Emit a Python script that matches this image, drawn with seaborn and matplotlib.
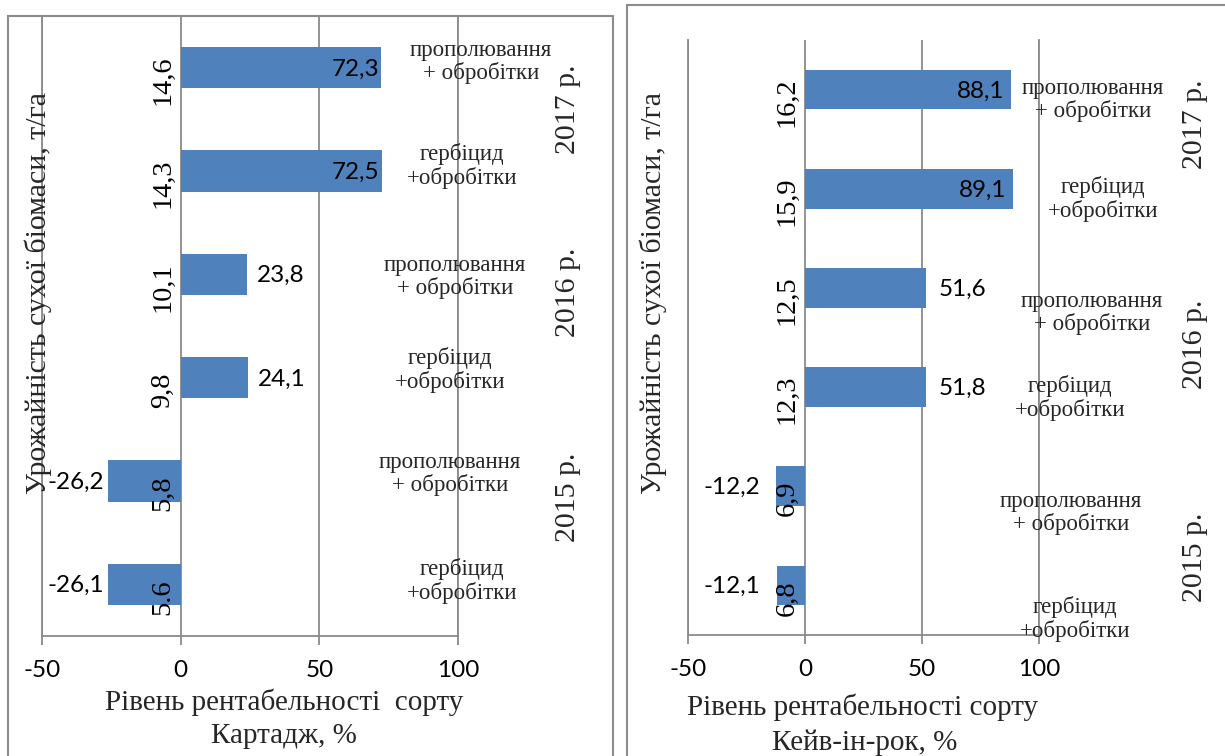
import numpy as np
import pandas as pd
import matplotlib
matplotlib.use("Agg")
import matplotlib.pyplot as plt
import seaborn as sns
from matplotlib.patches import Rectangle

# ---------------- data ----------------
categories = ["2017 прополювання", "2017 гербіцид", "2016 прополювання",
              "2016 гербіцид", "2015 прополювання", "2015 гербіцид"]
treatments = ["прополювання\n+ обробітки", "гербіцид\n+обробітки",
              "прополювання\n+ обробітки", "гербіцид\n+обробітки",
              "прополювання\n+ обробітки", "гербіцид\n+обробітки"]
years = ["2017 р.", "2016 р.", "2015 р."]
kartadzh_profit = [72.3, 72.5, 23.8, 24.1, -26.2, -26.1]
kartadzh_yield = ["14,6", "14,3", "10,1", "9,8", "5,8", "5.6"]
kave_profit = [88.1, 89.1, 51.6, 51.8, -12.2, -12.1]
kave_yield = ["16,2", "15,9", "12,5", "12,3", "6,9", "6,8"]
x_ticks = [-50, 0, 50, 100]
xlabel_line1 = ["Рівень рентабельності  сорту", "Рівень рентабельності сорту"]
xlabel_line2 = ["Картадж, %", "Кейв-ін-рок, %"]
ylabel_text = "Урожайність сухої біомаси, т/га"

# ---------------- style ----------------
W, H = 1225, 756
sns.set_theme(style="white")
plt.rcParams["font.family"] = ["Liberation Serif", "DejaVu Serif"]
SANS = ["Lato", "DejaVu Sans"]
SERIF = ["Liberation Serif", "DejaVu Serif"]
BAR = "#4F81BD"
GRID = "#8a8a8a"

fig = plt.figure(figsize=(W / 100, H / 100), dpi=100)
fig.patch.set_facecolor("white")


def px(x, y):
    return x / W, 1 - y / H


# panel frames
fig.patches.append(Rectangle(px(8, 770), 605 / W, (770 - 16) / H, transform=fig.transFigure,
                             fill=False, edgecolor="#8c8c8c", lw=1.5))
fig.patches.append(Rectangle(px(627, 770), 620 / W, (770 - 5) / H, transform=fig.transFigure,
                             fill=False, edgecolor="#8c8c8c", lw=1.5))

panels = [
    dict(rect=(42, 16, 458, 636), profit=kartadzh_profit, yld=kartadzh_yield,
         pads=(-1.5, 7.5, -3.0),
         treat_pos=[(481, 62), (462, 166), (455, 277), (450, 370), (450, 474), (462, 581)],
         year_pos=[(568, 109), (568, 292), (568, 497)],
         ylab=(38, 293), xl1=(284, 710), xl2=(284, 743)),
    dict(rect=(688, 40, 1039, 635), profit=kave_profit, yld=kave_yield,
         pads=(-5.0, 9.0, -12.0),
         treat_pos=[(1093, 100), (1103, 199), (1092, 313), (1070, 398), (1071, 513), (1075, 619)],
         year_pos=[(1195, 124), (1195, 344), (1195, 557)],
         ylab=(653, 293), xl1=(863, 715), xl2=(865, 750)),
]

for k, p in enumerate(panels):
    x0, y0, x1, y1 = p["rect"]
    ax = fig.add_axes([x0 / W, 1 - y1 / H, (x1 - x0) / W, (y1 - y0) / H])
    df = pd.DataFrame({"cat": categories, "profit": p["profit"]})
    sns.barplot(data=df, y="cat", x="profit", orient="h", color=BAR, saturation=1,
                width=0.4, ax=ax, edgecolor="none", linewidth=0)
    ax.set_facecolor("none")
    ax.set_xlim(-50, 100)
    ax.set_ylim(5.5, -0.5)
    ax.set_xticks(x_ticks)
    ax.set_xticklabels([str(t) for t in x_ticks], fontfamily=SANS, fontsize=17.5)
    ax.set_yticks([])
    ax.set_xlabel("")
    ax.set_ylabel("")
    ax.xaxis.grid(True, color=GRID, lw=1.3)
    ax.set_axisbelow(True)
    for s in ["left", "right", "bottom"]:
        ax.spines[s].set_color(GRID)
        ax.spines[s].set_linewidth(1.3)
    ax.spines["top"].set_visible(False)
    ax.tick_params(axis="x", bottom=True, direction="out", length=6.5, width=1.3,
                   color=GRID, pad=11, labelcolor="black")

    inside, outside, neg = p["pads"]
    for i, v in enumerate(p["profit"]):
        txt = f"{v:.1f}".replace(".", ",")
        if v >= 60:
            off, ha = inside, "right"
        elif v >= 0:
            off, ha = outside, "left"
        else:
            off, ha = neg, "right"
        ax.annotate(txt, xy=(v, i), xytext=(off, -1), textcoords="offset points",
                    ha=ha, va="center", fontfamily=SANS, fontsize=17.5, color="black")
        ax.annotate(p["yld"][i], xy=(0, i), xytext=(-13, -9), textcoords="offset points",
                    ha="center", va="center", rotation=90, fontfamily=SERIF,
                    fontsize=20.5, color="black", annotation_clip=False)

    for (tx, ty), t in zip(p["treat_pos"], treatments):
        fig.text(*px(tx, ty), t, ha="center", va="center", fontfamily=SERIF,
                 fontsize=16.5, linespacing=1.1, multialignment="center")
    for (tx, ty), t in zip(p["year_pos"], years):
        fig.text(*px(tx, ty), t, ha="center", va="center", rotation=90,
                 fontfamily=SERIF, fontsize=21.5)
    fig.text(*px(*p["ylab"]), ylabel_text, ha="center", va="center", rotation=90,
             fontfamily=SERIF, fontsize=21.5)
    fig.text(*px(*p["xl1"]), xlabel_line1[k], ha="center", va="baseline",
             fontfamily=SERIF, fontsize=21)
    fig.text(*px(*p["xl2"]), xlabel_line2[k], ha="center", va="baseline",
             fontfamily=SERIF, fontsize=21)

fig.savefig("out.png", dpi=100)
